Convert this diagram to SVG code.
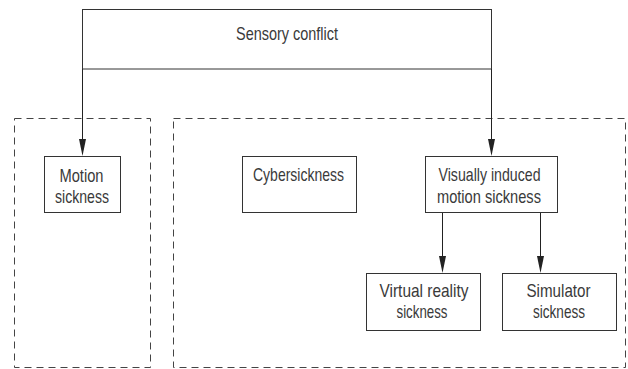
<svg xmlns="http://www.w3.org/2000/svg" width="628" height="369" viewBox="0 0 628 369">
<style>
.box{fill:#fff;stroke:#333;stroke-width:1}
.grp{fill:none;stroke:#444;stroke-width:1;stroke-dasharray:7 5}
.con{fill:none;stroke:#222;stroke-width:1}
.head{fill:#222}
text{font-family:"Liberation Sans",Arial,sans-serif;font-size:19px;fill:#3a3a3a;text-anchor:middle}
</style>
<rect fill="#fff" width="628" height="369"/>
<g id="group-left"><rect class="grp" x="14.5" y="118.5" width="136" height="249"/></g>
<g id="group-right"><rect class="grp" x="173.5" y="118.5" width="452" height="249"/></g>
<g id="sensory-conflict">
<rect class="box" x="82.5" y="9.5" width="409" height="59.5"/>
<text x="287" y="40" textLength="102" lengthAdjust="spacingAndGlyphs">Sensory conflict</text>
</g>
<g id="connectors">
<path class="con" d="M82.5,69 V139"/>
<path class="head" d="M79,139 L86,139 L82.5,156 Z"/>
<path class="con" d="M491.5,69 V139"/>
<path class="head" d="M488,139 L495,139 L491.5,156 Z"/>
<path class="con" d="M442.5,212.5 V256"/>
<path class="head" d="M439,256 L446,256 L442.5,273 Z"/>
<path class="con" d="M540.5,212.5 V256"/>
<path class="head" d="M537,256 L544,256 L540.5,273 Z"/>
</g>
<g id="motion-sickness">
<rect class="box" x="44.5" y="156.5" width="76" height="56"/>
<text x="81.5" y="181.5" textLength="44" lengthAdjust="spacingAndGlyphs">Motion</text>
<text x="82" y="202.5" textLength="54" lengthAdjust="spacingAndGlyphs">sickness</text>
</g>
<g id="cybersickness">
<rect class="box" x="242.5" y="156.5" width="114" height="56"/>
<text x="298.5" y="180.5" textLength="91" lengthAdjust="spacingAndGlyphs">Cybersickness</text>
</g>
<g id="vims">
<rect class="box" x="425.5" y="156.5" width="132" height="56"/>
<text x="489.5" y="181" textLength="102" lengthAdjust="spacingAndGlyphs">Visually induced</text>
<text x="489" y="203" textLength="104" lengthAdjust="spacingAndGlyphs">motion sickness</text>
</g>
<g id="vr-sickness">
<rect class="box" x="366.5" y="273.5" width="114" height="57"/>
<text x="424" y="296.5" textLength="89" lengthAdjust="spacingAndGlyphs">Virtual reality</text>
<text x="422" y="317.5" textLength="51" lengthAdjust="spacingAndGlyphs">sickness</text>
</g>
<g id="simulator-sickness">
<rect class="box" x="502.5" y="273.5" width="114" height="57"/>
<text x="558.5" y="296.5" textLength="64" lengthAdjust="spacingAndGlyphs">Simulator</text>
<text x="559" y="317.5" textLength="52" lengthAdjust="spacingAndGlyphs">sickness</text>
</g>
</svg>
